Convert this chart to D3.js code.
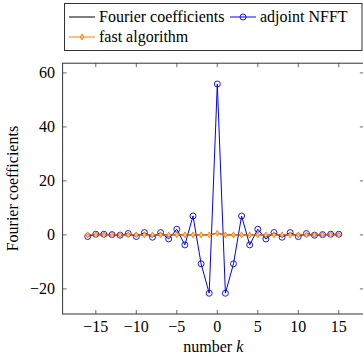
<!DOCTYPE html>
<html>
<head>
<meta charset="utf-8">
<script src="https://cdn.jsdelivr.net/npm/d3@7"></script>
<style>
    body { margin: 0; background: #fff; }
</style>
</head>
<body>
<div id="chart"></div>
<script>

// number k
const kValues = [-16, -15, -14, -13, -12, -11, -10, -9, -8, -7, -6, -5, -4, -3, -2, -1,
    0, 1, 2, 3, 4, 5, 6, 7, 8, 9, 10, 11, 12, 13, 14, 15];

const fourierCoefficients = [0, 0, 0, 0, 0, 0, 0, 0, 0, 0, 0, 0, 0, 0, 0, 0,
    0.6, 0, 0, 0, 0, 0, 0, 0, 0, 0, 0, 0, 0, 0, 0, 0];

const adjointNFFT = [-0.6, 0.25, 0.25, 0.1, -0.1, 0.5, -0.6, 0.85, -0.85, 0.85, -1.5, 2.1, -3.7, 7.0, -10.7, -21.6,
    55.9, -21.6, -10.7, 7.0, -3.7, 2.1, -1.5, 0.85, -0.85, 0.85, -0.6, 0.5, -0.1, 0.1, 0.25, 0.25];

const fastAlgorithm = [0, 0, 0, 0, 0, 0, 0, 0, 0, 0, 0, 0, 0, 0, 0, 0,
    0.6, 0, 0, 0, 0, 0, 0, 0, 0, 0, 0, 0, 0, 0, 0, 0];

const xTicks = [-15, -10, -5, 0, 5, 10, 15];
const yTicks = [-20, 0, 20, 40, 60];

const series = [
    {name: "Fourier coefficients", values: fourierCoefficients, color: "#000", mark: null},
    {name: "adjoint NFFT", values: adjointNFFT, color: "#0000ff", mark: "circle"},
    {name: "fast algorithm", values: fastAlgorithm, color: "#ff8000", mark: "diamond"}
];

const FONT = "'Liberation Serif', 'DejaVu Serif', serif";
const FONT_SIZE = "16px";

class CoeffVis {

    constructor(parentElement) {
        this.parentElement = parentElement;
        this.initVis();
    }

    initVis() {
        let vis = this;

        vis.width = 363;
        vis.height = 355;
        vis.plot = {left: 62.6, right: 363.9, top: 63.2, bottom: 314};

        vis.svg = d3.select("#" + vis.parentElement).append("svg")
            .attr("width", vis.width)
            .attr("height", vis.height)
            .attr("font-family", FONT);

        vis.x = d3.scaleLinear().domain([-19.1, 18.1]).range([vis.plot.left, vis.plot.right]);
        vis.y = d3.scaleLinear().domain([-29.3, 63.6]).range([vis.plot.bottom, vis.plot.top]);

        vis.drawAxes();
        vis.drawSeries();
        vis.drawLegend();
    }

    drawAxes() {
        let vis = this;
        let p = vis.plot;
        let tick = 4;
        let minus = d => d < 0 ? "\u2212" + Math.abs(d) : d;

        let g = vis.svg.append("g").attr("class", "axes");

        // inward ticks, mirrored like pgfplots
        xTicks.forEach(t => {
            let px = vis.x(t);
            g.append("line").attr("x1", px).attr("x2", px).attr("y1", p.bottom).attr("y2", p.bottom - tick)
                .attr("stroke", "#444").attr("stroke-width", 0.8);
            g.append("line").attr("x1", px).attr("x2", px).attr("y1", p.top).attr("y2", p.top + tick)
                .attr("stroke", "#444").attr("stroke-width", 0.8);
            g.append("text").attr("x", px).attr("y", 332)
                .attr("text-anchor", "middle").attr("font-family", FONT).style("font-size", FONT_SIZE)
                .text(minus(t));
        });

        yTicks.forEach(t => {
            let py = vis.y(t);
            g.append("line").attr("x1", p.left).attr("x2", p.left + tick).attr("y1", py).attr("y2", py)
                .attr("stroke", "#444").attr("stroke-width", 0.8);
            g.append("line").attr("x1", p.right).attr("x2", p.right - tick).attr("y1", py).attr("y2", py)
                .attr("stroke", "#444").attr("stroke-width", 0.8);
            g.append("text").attr("x", 55).attr("y", py + 5)
                .attr("text-anchor", "end").attr("font-family", FONT).style("font-size", FONT_SIZE)
                .text(minus(t));
        });

        g.append("rect")
            .attr("x", p.left).attr("y", p.top)
            .attr("width", p.right - p.left).attr("height", p.bottom - p.top)
            .attr("fill", "none").attr("stroke", "#333").attr("stroke-width", 1);

        // axis labels
        let xl = vis.svg.append("text")
            .attr("x", (p.left + p.right) / 2).attr("y", 352)
            .attr("text-anchor", "middle").attr("font-family", FONT).style("font-size", FONT_SIZE);
        xl.append("tspan").text("number ");
        xl.append("tspan").style("font-style", "italic").text("k");

        vis.svg.append("text")
            .attr("transform", `translate(18, ${(p.top + p.bottom) / 2}) rotate(-90)`)
            .attr("text-anchor", "middle").attr("font-family", FONT).style("font-size", FONT_SIZE)
            .text("Fourier coefficients");
    }

    drawMark(g, s, cx, cy) {
        if (s.mark === "circle") {
            g.append("circle").attr("cx", cx).attr("cy", cy).attr("r", 3)
                .attr("fill", "none").attr("stroke", s.color).attr("stroke-width", 0.9);
        } else if (s.mark === "diamond") {
            let r = 3;
            g.append("path")
                .attr("d", `M${cx},${cy - r}L${cx + r * 0.6},${cy}L${cx},${cy + r}L${cx - r * 0.6},${cy}Z`)
                .attr("fill", "#ffc080").attr("stroke", s.color).attr("stroke-width", 0.9);
        }
    }

    drawSeries() {
        let vis = this;

        let line = d3.line()
            .x(d => vis.x(d[0]))
            .y(d => vis.y(d[1]));

        series.forEach(s => {
            let pts = kValues.map((k, i) => [k, s.values[i]]);
            let g = vis.svg.append("g").attr("class", "series");
            g.append("path")
                .datum(pts)
                .attr("d", line)
                .attr("fill", "none")
                .attr("stroke", s.color)
                .attr("stroke-width", 1);
            pts.forEach(d => vis.drawMark(g, s, vis.x(d[0]), vis.y(d[1])));
        });
    }

    drawLegend() {
        let vis = this;
        let g = vis.svg.append("g").attr("class", "legend");

        g.append("rect")
            .attr("x", 64.5).attr("y", 3.5).attr("width", 297.5).attr("height", 47)
            .attr("fill", "#fff").attr("stroke", "#333").attr("stroke-width", 1);

        let entries = [
            {s: series[0], x: 69, y: 17},
            {s: series[1], x: 230, y: 17},
            {s: series[2], x: 69, y: 37}
        ];

        entries.forEach(e => {
            g.append("line")
                .attr("x1", e.x).attr("x2", e.x + 26).attr("y1", e.y).attr("y2", e.y)
                .attr("stroke", e.s.color).attr("stroke-width", 1);
            vis.drawMark(g, e.s, e.x + 13, e.y);
            g.append("text")
                .attr("x", e.x + 30).attr("y", e.y + 5)
                .attr("font-family", FONT).style("font-size", FONT_SIZE)
                .text(e.s.name);
        });
    }
}

new CoeffVis("chart");
</script>
</body>
</html>
